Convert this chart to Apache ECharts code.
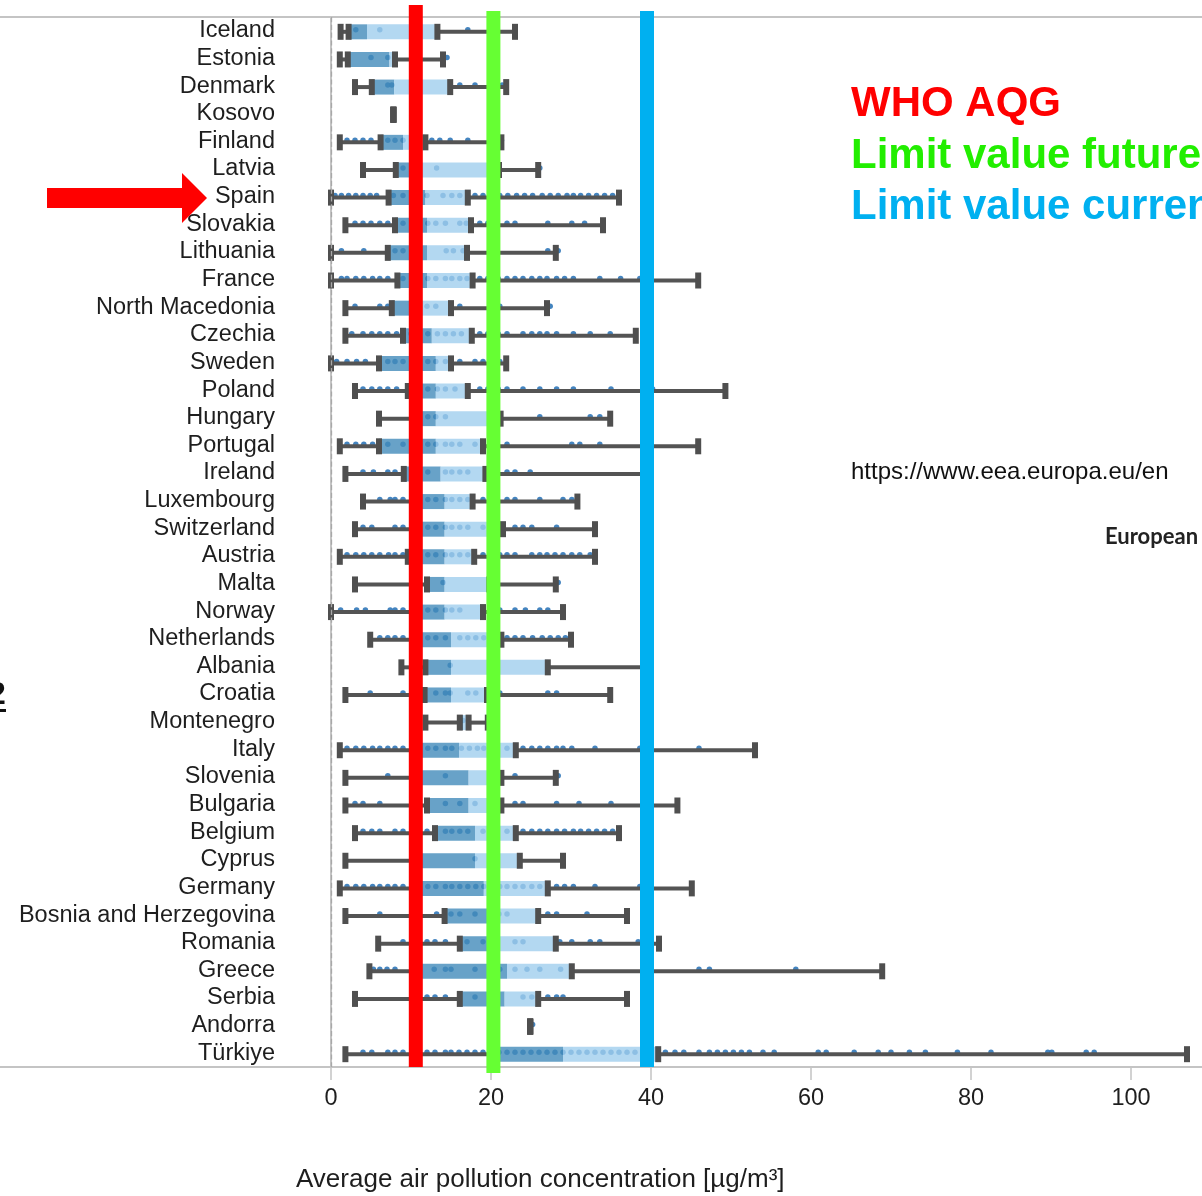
<!DOCTYPE html>
<html>
<head>
<meta charset="utf-8">
<script src="https://cdn.jsdelivr.net/npm/echarts@6/dist/echarts.min.js"></script>
<style>
  html, body { margin: 0; padding: 0; background: #fff; }
  #chart { width: 1202px; height: 1196px; }
</style>
</head>
<body>
<div id="chart"></div>
<script>
// Countries, top to bottom (sorted by median NO2 concentration)
const countries = [
  'Iceland', 'Estonia', 'Denmark', 'Kosovo', 'Finland', 'Latvia', 'Spain', 'Slovakia',
  'Lithuania', 'France', 'North Macedonia', 'Czechia', 'Sweden', 'Poland', 'Hungary',
  'Portugal', 'Ireland', 'Luxembourg', 'Switzerland', 'Austria', 'Malta', 'Norway',
  'Netherlands', 'Albania', 'Croatia', 'Montenegro', 'Italy', 'Slovenia', 'Bulgaria',
  'Belgium', 'Cyprus', 'Germany', 'Bosnia and Herzegovina', 'Romania', 'Greece',
  'Serbia', 'Andorra', 'Türkiye'
];

// Five-number summary per country (µg/m³)
const minVals = [1.2, 1.1, 3.0, 7.8, 1.1, 4.0, 0.0, 1.8, 0.0, 0.0, 1.8, 1.8, 0.0, 3.0, 6.0,
  1.1, 1.8, 4.0, 3.0, 1.1, 3.0, 0.0, 4.9, 8.8, 1.8, 11.8, 1.1, 1.8, 1.8, 3.0, 1.8, 1.1,
  1.8, 5.9, 4.8, 3.0, 24.9, 1.8];
const q1Vals = [2.2, 2.1, 5.1, 7.8, 6.2, 8.1, 7.2, 8.0, 7.1, 8.3, 7.6, 9.0, 6.0, 9.6, 11.0,
  6.0, 9.1, 10.5, 10.5, 9.6, 12.0, 10.5, 10.5, 11.8, 11.7, 16.1, 10.5, 10.5, 12.0, 13.0,
  10.5, 10.5, 14.2, 16.1, 10.5, 16.1, 24.9, 20.5];
const medVals = [4.5, 7.3, 7.9, 7.8, 9.0, 10.5, 11.8, 12.0, 12.0, 12.0, 11.2, 12.6, 13.1,
  13.1, 13.1, 13.1, 13.7, 14.2, 14.2, 14.2, 14.2, 14.2, 15.0, 15.0, 15.0, 16.5, 16.0, 17.2,
  17.2, 18.0, 18.0, 19.1, 20.3, 20.3, 22.0, 21.7, 24.9, 29.0];
const q3Vals = [13.3, 8.0, 14.9, 7.8, 11.8, 21.0, 17.1, 17.5, 17.0, 17.7, 15.0, 17.6, 15.0,
  17.1, 21.2, 19.0, 19.3, 17.7, 21.5, 17.9, 19.8, 19.0, 21.3, 27.1, 19.5, 17.2, 23.1, 21.3,
  21.3, 23.1, 23.6, 27.1, 25.9, 28.1, 30.1, 25.9, 24.9, 40.9];
const maxVals = [23.0, 14.0, 21.9, 7.8, 21.3, 25.9, 36.0, 34.0, 28.1, 45.9, 27.0, 38.1, 21.9,
  49.3, 34.9, 45.9, 39.2, 30.8, 33.0, 33.0, 28.1, 29.0, 30.0, 39.0, 34.9, 19.6, 53.0, 28.1,
  43.3, 36.0, 29.0, 45.1, 37.0, 41.0, 68.9, 37.0, 24.9, 107.0];

// Annual mean at individual monitoring stations, one list per country
const stations = [
  [3.1, 6.1, 17.1],
  [5.0, 7.1, 14.5],
  [7.1, 7.6, 16.1, 18.0, 21.4],
  [7.8],
  [2.0, 3.0, 4.0, 5.0, 7.1, 8.0, 9.0, 12.6, 13.6, 14.9, 17.1, 21.3],
  [9.0, 13.2, 26.1],
  [0.5, 1.3, 2.2, 3.1, 4.0, 4.9, 5.7, 7.8, 9.0, 12.0, 14.0, 15.1, 16.1, 18.0, 19.0, 20.1,
   21.1, 22.1, 23.2, 24.2, 25.2, 26.4, 27.4, 28.4, 29.5, 30.3, 31.2, 32.2, 33.2, 34.2, 35.2],
  [3.0, 4.0, 5.0, 6.1, 7.1, 9.0, 12.1, 13.1, 14.3, 16.1, 16.9, 18.6, 19.6, 22.0, 23.0, 27.1,
   30.1, 31.7],
  [1.3, 4.1, 8.0, 9.0, 14.4, 15.3, 16.5, 27.1, 28.4],
  [1.3, 2.0, 3.1, 4.1, 5.2, 6.1, 7.1, 9.0, 12.1, 13.1, 14.3, 15.1, 16.1, 17.0, 18.6, 19.6,
   20.9, 22.0, 23.0, 24.0, 25.1, 26.1, 27.0, 28.2, 29.2, 30.3, 33.6, 36.2, 38.6],
  [3.0, 6.1, 7.1, 12.0, 13.1, 16.1, 21.1, 27.4],
  [2.6, 4.0, 5.1, 6.1, 7.1, 8.2, 10.0, 12.1, 13.3, 14.3, 15.3, 16.3, 18.6, 19.6, 20.9, 22.0,
   24.0, 25.1, 26.1, 27.0, 28.2, 30.3, 32.4, 34.9],
  [0.7, 2.0, 3.2, 4.3, 7.1, 8.0, 9.0, 12.1, 13.1, 14.3, 16.1, 18.0, 19.0, 21.1],
  [4.0, 5.1, 6.1, 7.1, 8.2, 10.5, 12.1, 13.3, 14.3, 15.5, 18.6, 19.6, 20.9, 22.0, 24.0, 26.1,
   28.2, 30.3, 35.0, 40.2],
  [12.1, 13.1, 14.3, 26.1, 32.4, 33.6],
  [2.0, 3.1, 4.1, 5.2, 7.1, 9.0, 12.1, 13.1, 14.3, 15.1, 16.1, 18.0, 22.0, 30.1, 31.1, 33.6],
  [4.0, 5.3, 7.1, 8.0, 12.1, 14.3, 15.1, 16.1, 17.1, 22.0, 23.0, 24.9],
  [6.1, 7.4, 8.0, 9.0, 12.1, 13.1, 14.3, 15.1, 16.1, 17.1, 19.0, 20.3, 22.0, 23.0, 26.1,
   29.0, 30.1],
  [4.0, 5.1, 8.0, 9.0, 12.1, 13.1, 14.3, 15.1, 16.1, 17.1, 19.0, 23.0, 24.0, 25.1, 28.2],
  [2.0, 3.1, 4.1, 5.1, 6.1, 7.2, 8.0, 9.0, 12.1, 13.1, 14.3, 15.1, 16.1, 17.1, 19.0, 20.1,
   21.1, 22.0, 23.0, 25.1, 26.1, 27.0, 28.0, 29.0, 30.1, 31.1, 32.4],
  [14.0, 28.4],
  [1.2, 3.2, 4.3, 7.4, 8.0, 9.0, 12.1, 13.1, 14.3, 15.1, 16.1, 21.1, 23.0, 24.3, 26.1, 27.1],
  [6.1, 7.1, 8.0, 9.0, 12.1, 13.1, 14.3, 16.1, 17.1, 18.1, 19.1, 22.0, 23.0, 24.0, 25.2,
   26.4, 27.4, 28.4, 29.3],
  [14.9],
  [4.9, 9.0, 13.1, 14.3, 14.9, 17.1, 18.1, 21.1, 27.1, 28.2],
  [16.5],
  [2.0, 3.1, 4.1, 5.2, 6.1, 7.1, 8.0, 9.0, 12.1, 13.1, 14.3, 15.1, 16.3, 17.3, 18.3, 19.1,
   22.0, 24.0, 25.1, 26.1, 27.1, 28.2, 29.0, 30.1, 33.0, 38.6, 46.0],
  [7.1, 14.3, 23.0, 28.4],
  [3.0, 4.0, 6.1, 14.3, 16.1, 18.0, 23.0, 24.0, 28.2, 31.0, 35.0],
  [4.0, 5.1, 6.1, 8.0, 9.0, 12.0, 14.3, 15.1, 16.1, 17.1, 19.0, 20.1, 22.0, 24.0, 25.1, 26.1,
   27.1, 28.2, 29.2, 30.3, 31.2, 32.2, 33.2, 34.2, 35.2],
  [18.0],
  [2.0, 3.1, 4.1, 5.2, 6.1, 7.1, 8.0, 9.0, 12.1, 13.1, 14.3, 15.1, 16.1, 17.1, 18.1, 19.1,
   20.1, 21.1, 22.0, 23.0, 24.0, 25.1, 26.1, 28.2, 29.2, 30.3, 33.0, 38.6, 40.0],
  [6.1, 13.2, 15.0, 16.1, 18.0, 21.0, 22.0, 27.1, 28.2, 32.0],
  [9.0, 12.0, 13.0, 14.3, 17.0, 19.0, 23.0, 24.0, 28.6, 30.1, 32.4, 33.6, 38.4],
  [5.3, 6.1, 7.0, 8.0, 12.9, 14.3, 15.0, 18.0, 21.1, 23.0, 24.5, 26.1, 28.7, 46.0, 47.3, 58.1],
  [12.0, 13.0, 14.3, 18.0, 24.0, 25.1, 27.1, 28.2, 29.0],
  [25.2],
  [4.0, 5.1, 7.1, 8.0, 9.0, 12.0, 13.0, 14.3, 15.0, 16.0, 17.0, 18.0, 19.0, 21.0, 22.0, 23.0,
   24.0, 25.0, 26.0, 27.0, 28.0, 29.0, 30.0, 31.0, 32.0, 33.0, 34.0, 35.0, 36.0, 37.0, 38.0,
   39.0, 40.0, 41.8, 43.0, 44.1, 46.0, 47.3, 48.3, 49.3, 50.3, 51.3, 52.3, 54.0, 55.4, 60.9,
   61.9, 65.4, 68.4, 70.0, 72.3, 74.3, 78.3, 82.5, 89.6, 90.1, 94.4, 95.4]
];

// Reference levels: WHO guideline, future limit value, current limit value
const thresholdNames = ['WHO AQG', 'Limit value future', 'Limit value current'];
const thresholdValues = [10.6, 20.3, 39.5];
const thresholdColors = ['#ff0000', '#66ff33', '#00b0f0'];

const xTicks = [0, 20, 40, 60, 80, 100];

// ---- build series data from the arrays above ----
const boxData = countries.map((c, i) => [i, minVals[i], q1Vals[i], medVals[i], q3Vals[i], maxVals[i]]);
const dotData = [];
stations.forEach((list, i) => list.forEach(v => dotData.push([v, i])));
const lineData = thresholdValues.map((v, i) => [v, 0, i]);

const FONT = '"Liberation Sans", Arial, sans-serif';
const chart = echarts.init(document.getElementById('chart'), null, { renderer: 'canvas' });

function renderBox(params, api) {
  const idx = api.value(0);
  const mn = api.value(1), q1 = api.value(2), md = api.value(3), q3 = api.value(4), mx = api.value(5);
  const px = v => api.coord([v, idx])[0];
  const cy = api.coord([mn, idx])[1] + 1;
  const boxH = 15, lineH = 4, capW = 6, capH = 16;
  const children = [];
  const seg = (a, b) => {
    if (b - a <= 0) return;
    children.push({ type: 'rect', shape: { x: a, y: cy - lineH / 2, width: b - a, height: lineH },
      style: { fill: '#545454' } });
  };
  seg(px(mn), px(q1));
  seg(px(q3), px(mx));
  if (px(md) > px(q1)) {
    children.push({ type: 'rect', shape: { x: px(q1), y: cy - boxH / 2, width: px(md) - px(q1), height: boxH },
      style: { fill: 'rgba(66,139,186,0.80)' } });
  }
  if (px(q3) > px(md)) {
    children.push({ type: 'rect', shape: { x: px(md), y: cy - boxH / 2, width: px(q3) - px(md), height: boxH },
      style: { fill: 'rgba(160,206,237,0.80)' } });
  }
  [mn, q1, q3, mx].forEach(v => {
    children.push({ type: 'rect', shape: { x: px(v) - capW / 2, y: cy - capH / 2, width: capW, height: capH },
      style: { fill: '#4f4f4f' } });
  });
  return { type: 'group', children };
}

function renderThreshold(params, api) {
  const x = api.coord([api.value(0), 0])[0];
  const k = api.value(2);
  const cs = params.coordSys;
  // small overshoot of each band beyond the plot frame
  const ext = [[12, 0], [6, 6], [6, 0]][k];
  const w = 14;
  return {
    type: 'rect',
    shape: { x: x - w / 2, y: cs.y - ext[0], width: w, height: cs.height + ext[0] + ext[1] },
    style: { fill: api.visual('color') }
  };
}

const option = {
  animation: false,
  backgroundColor: '#ffffff',
  grid: { left: 287, right: 0, top: 17, bottom: 129, containLabel: false, outerBoundsMode: 'none' },
  xAxis: {
    type: 'value',
    min: -5.5,
    max: 108.875,
    axisLine: { show: true, lineStyle: { color: '#c4c4c4', width: 2 } },
    axisTick: { show: true, customValues: xTicks, length: 13, lineStyle: { color: '#c4c4c4', width: 1.5 } },
    axisLabel: { customValues: xTicks, fontSize: 23.5, color: '#1e1e1e', fontFamily: FONT, margin: 20 },
    splitLine: { show: false }
  },
  yAxis: {
    type: 'category',
    data: countries,
    inverse: true,
    axisLine: { show: true, lineStyle: { color: '#c4c4c4', width: 2 } },
    axisTick: { show: false },
    axisLabel: { interval: 0, fontSize: 23.5, color: '#1e1e1e', fontFamily: FONT, margin: 12, padding: [4, 0, 0, 0] },
    splitLine: { show: false }
  },
  series: [
    {
      name: 'Stations',
      type: 'scatter',
      data: dotData,
      symbol: 'circle',
      symbolSize: 5.5,
      symbolOffset: [0, -1],
      itemStyle: { color: '#3077b8', opacity: 0.9 },
      z: 2,
      silent: true,
      markLine: {
        silent: true,
        symbol: ['none', 'none'],
        label: { show: false },
        lineStyle: { type: 'dashed', color: '#a8a8a8', width: 1.3 },
        data: [{ xAxis: 0 }]
      }
    },
    {
      name: 'Distribution',
      type: 'custom',
      renderItem: renderBox,
      data: boxData,
      encode: { x: [1, 2, 3, 4, 5], y: 0 },
      z: 3,
      silent: true
    },
    {
      name: 'Reference levels',
      type: 'custom',
      renderItem: renderThreshold,
      data: lineData.map((d, i) => ({ value: d, itemStyle: { color: thresholdColors[i] } })),
      encode: { x: 0, y: 1 },
      clip: false,
      z: 6,
      silent: true
    }
  ],
  graphic: [
    // frame lines running across the label column
    { type: 'line', shape: { x1: 0, y1: 17, x2: 1202, y2: 17 }, style: { stroke: '#c4c4c4', lineWidth: 2 }, z: 1 },
    { type: 'line', shape: { x1: 0, y1: 1067, x2: 287, y2: 1067 }, style: { stroke: '#c4c4c4', lineWidth: 2 }, z: 1 },
    // arrow pointing at Spain
    { type: 'polygon', shape: { points: [[47, 188], [182, 188], [182, 173], [207, 198], [182, 223], [182, 208], [47, 208]] },
      style: { fill: '#ff0000' }, z: 10 },
    // legend of the reference levels
    { type: 'text', x: 851, y: 104, style: { text: thresholdNames[0], fill: thresholdColors[0], font: 'bold 42px ' + FONT, verticalAlign: 'middle' }, z: 10 },
    { type: 'text', x: 851, y: 156, style: { text: thresholdNames[1], fill: '#22ee00', font: 'bold 42px ' + FONT, verticalAlign: 'middle' }, z: 10 },
    { type: 'text', x: 851, y: 207, style: { text: thresholdNames[2], fill: thresholdColors[2], font: 'bold 42px ' + FONT, verticalAlign: 'middle' }, z: 10 },
    // source
    { type: 'text', x: 851, y: 472, style: { text: 'https://www.eea.europa.eu/en', fill: '#111', font: '24px ' + FONT, verticalAlign: 'middle' }, z: 10 },
    { type: 'text', x: 1105, y: 537, style: { text: 'European', fill: '#222', font: 'bold 22px Lato, "Open Sans", sans-serif', verticalAlign: 'middle' }, z: 10 },
    // slide number at the left edge
    { type: 'text', x: -12, y: 695, style: { text: '2', fill: '#111', font: 'bold 32px ' + FONT, verticalAlign: 'middle' }, z: 10 },
    { type: 'rect', shape: { x: 0, y: 709, width: 6, height: 3 }, style: { fill: '#111' }, z: 10 },
    // axis title
    { type: 'text', x: 296, y: 1180, style: { text: 'Average air pollution concentration [µg/m³]', fill: '#1e1e1e', font: '26px ' + FONT, verticalAlign: 'middle' }, z: 10 }
  ]
};

chart.setOption(option);
</script>
</body>
</html>
